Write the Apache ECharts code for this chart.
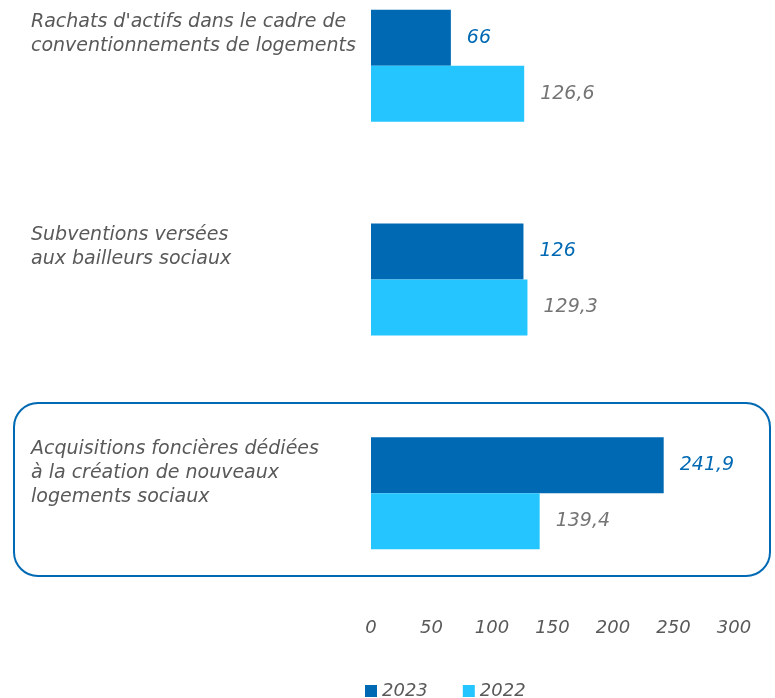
<!DOCTYPE html>
<html>
<head>
<meta charset="utf-8">
<script src="https://cdn.jsdelivr.net/npm/echarts@6/dist/echarts.min.js"></script>
<style>
  html, body { margin: 0; padding: 0; background: #fff; overflow: hidden; }
  /* the first group sits higher than a top-aligned grid allows, so the canvas is raised by 41px */
  #wrap { width: 775px; height: 698px; position: relative; overflow: hidden; }
  #chart { width: 775px; height: 739px; position: absolute; left: 0; top: -41px; }
</style>
</head>
<body>
<div id="wrap"><div id="chart"></div></div>
<script>
// categories, top to bottom
var categories = [
    "Rachats d'actifs dans le cadre de\nconventionnements de logements",
    "Subventions versées\naux bailleurs sociaux",
    "Acquisitions foncières dédiées\nà la création de nouveaux\nlogements sociaux"
]
var values2023 = [66, 126, 241.9]
var values2022 = [126.6, 129.3, 139.4]
var xTicks = [0, 50, 100, 150, 200, 250, 300]

var dark = '#0069B4'
var light = '#25C5FF'
var grey = '#595959'
var font = 'DejaVu Sans'
var shift = 41

var myChart = echarts.init(document.getElementById('chart'))

function fr(v) {
    return String(v).replace('.', ',')
}

// pad labels with blank lines so that they sit at the top of each group
function padLines(txt) {
    var n = txt.split('\n').length
    for (var i = n; i < 4; i++) txt += '\n '
    return txt + '\n{s| }'
}

option = {
    backgroundColor: '#fff',
    animation: false,
    legend: {
        data: ['2023', '2022'],
        left: 360,
        top: 677 + shift,
        icon: 'rect',
        itemWidth: 12,
        itemHeight: 12,
        itemGap: 35,
        textStyle: {
            color: grey,
            fontStyle: 'italic',
            fontFamily: font,
            fontSize: 18
        }
    },
    grid: {
        left: 371,
        right: 41,
        top: 0,
        bottom: 98,
        containLabel: false
    },
    xAxis: {
        type: 'value',
        min: xTicks[0],
        max: xTicks[xTicks.length - 1],
        interval: 50,
        axisLine: { show: false },
        axisTick: { show: false },
        splitLine: { show: false },
        axisLabel: {
            margin: 19,
            color: grey,
            fontStyle: 'italic',
            fontFamily: font,
            fontSize: 18
        }
    },
    yAxis: {
        type: 'category',
        data: categories,
        inverse: true,
        axisLine: { show: false },
        axisTick: { show: false },
        axisLabel: {
            margin: 340,
            align: 'left',
            verticalAlign: 'middle',
            lineHeight: 24,
            color: grey,
            fontStyle: 'italic',
            fontFamily: font,
            fontSize: 19,
            formatter: function (v) { return padLines(v) },
            rich: {
                s: { lineHeight: 16, fontSize: 10 }
            }
        }
    },
    // rounded frame around the last group
    graphic: [{
        type: 'rect',
        shape: { x: 14, y: 403 + shift, width: 756, height: 173, r: 24 },
        style: { fill: 'none', stroke: dark, lineWidth: 2 },
        z: 10
    }],
    series: [{
        name: '2023',
        type: 'bar',
        data: values2023,
        barWidth: 56,
        barGap: 0,
        itemStyle: { color: dark },
        label: {
            show: true,
            position: 'right',
            distance: 16,
            color: dark,
            fontStyle: 'italic',
            fontFamily: font,
            fontSize: 19,
            formatter: function (p) { return fr(p.value) }
        }
    }, {
        name: '2022',
        type: 'bar',
        data: values2022,
        barWidth: 56,
        barGap: 0,
        itemStyle: { color: light },
        label: {
            show: true,
            position: 'right',
            distance: 16,
            color: '#747474',
            fontStyle: 'italic',
            fontFamily: font,
            fontSize: 19,
            formatter: function (p) { return fr(p.value) }
        }
    }]
};

myChart.setOption(option);
</script>
</body>
</html>
